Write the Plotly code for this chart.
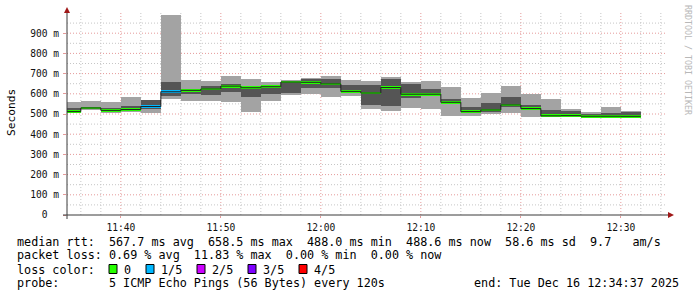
import plotly.graph_objects as go
import pandas as pd

# ---------------- data ----------------
DAY = "2025-12-16 "
bar_start = ["11:34", "11:36", "11:38", "11:40", "11:42", "11:44", "11:46", "11:48",
             "11:50", "11:52", "11:54", "11:56", "11:58", "12:00", "12:02", "12:04",
             "12:06", "12:08", "12:10", "12:12", "12:14", "12:16", "12:18", "12:20",
             "12:22", "12:24", "12:26", "12:28", "12:30"]
smoke_max = [561, 565, 560, 585, 570, 991, 669, 664, 689, 674, 659, 669, 679, 689, 669, 664,
             684, 658, 664, 635, 580, 605, 640, 600, 575, 525, 511, 535, 516]
smoke_p4 = [530, 532, 531, 541, 570, 658, 625, 641, 648, 640, 640, 664, 674, 674, 644, 644,
            674, 649, 625, 575, 535, 555, 585, 545, 520, 516, 501, 506, 511]
median = [512, 530, 518, 522, 537, 610, 617, 624, 638, 630, 635, 658, 657, 649, 612, 604,
          631, 598, 598, 558, 512, 520, 545, 527, 491, 492, 489, 489, 488.6]
smoke_p2 = [508, 525, 508, 515, 527, 591, 598, 592, 608, 584, 600, 602, 631, 628, 603, 545,
            541, 578, 588, 550, 507, 512, 537, 520, 489, 490, 488, 488, 488]
smoke_min = [506, 522, 505, 512, 506, 575, 562, 562, 557, 512, 566, 596, 597, 584, 587, 525,
             513, 529, 527, 492, 492, 501, 506, 487, 488, 489, 488, 488, 488]
loss_fifths = [0, 0, 0, 0, 1, 1, 0, 0, 0, 0, 0, 0, 0, 0, 0, 0,
               0, 0, 0, 0, 0, 0, 0, 0, 0, 0, 0, 0, 0]

loss_labels = ["0", "1/5", "2/5", "3/5", "4/5"]
loss_colors = ["#26ff00", "#00b8ff", "#cc00ff", "#7e00ff", "#ff0000"]

y_tick_vals = [0, 100, 200, 300, 400, 500, 600, 700, 800, 900]
y_tick_text = ["0\u00a0\u00a0", "100 m", "200 m", "300 m", "400 m", "500 m",
               "600 m", "700 m", "800 m", "900 m"]
x_tick_vals = ["11:40", "11:50", "12:00", "12:10", "12:20", "12:30"]
x_tick_text = ["11:40", "11:50", "12:00", "12:10", "12:20", "12:30"]

view_start = DAY + "11:34:37"
view_end = DAY + "12:34:37"
step_ms = 120000

legend_rows = [
    "median rtt:  567.7 ms avg  658.5 ms max  488.0 ms min  488.6 ms now  58.6 ms sd  9.7   am/s",
    "packet loss: 0.69 % avg  11.83 % max  0.00 % min  0.00 % now",
    "loss color:",
    "probe:       5 ICMP Echo Pings (56 Bytes) every 120s",
]
end_text = "end: Tue Dec 16 12:34:37 2025"
watermark = "RRDTOOL / TOBI OETIKER"
y_title = "Seconds"

# ---------------- layout geometry ----------------
W, H = 697, 297
ML, MR, MT, MB = 67, 30, 13, 82
PW, PH = W - ML - MR, H - MT - MB
Y_MAX = 1000
FONT = "DejaVu Sans Mono"

def px(x):
    return (x - ML) / PW

def py(y):
    return (MT + PH - y) / PH

light = "#a3a3a3"
dark = "#555555"
grid_minor = "#c6c6c6"
grid_major = "#e59a9a"

starts = [pd.Timestamp(DAY + s) for s in bar_start]
centers = [t + pd.Timedelta(milliseconds=step_ms / 2) for t in starts]

fig = go.Figure()

# outer smoke (min..max)
fig.add_trace(go.Bar(x=centers, base=smoke_min,
                     y=[a - b for a, b in zip(smoke_max, smoke_min)],
                     width=step_ms, marker=dict(color=light, line=dict(width=0)),
                     hoverinfo="skip", showlegend=False))
# inner smoke (p2..p4)
fig.add_trace(go.Bar(x=centers, base=smoke_p2,
                     y=[a - b for a, b in zip(smoke_p4, smoke_p2)],
                     width=step_ms, marker=dict(color=dark, line=dict(width=0)),
                     hoverinfo="skip", showlegend=False))
# thin dark step line through medians
fig.add_trace(go.Scatter(x=starts + [starts[-1] + pd.Timedelta(milliseconds=step_ms)],
                         y=median + [median[-1]], mode="lines",
                         line=dict(color="#202020", width=1, shape="hv"),
                         hoverinfo="skip", showlegend=False))
# coloured median band
band = 2.8 * Y_MAX / PH
fig.add_trace(go.Bar(x=centers, base=[m - band / 2 for m in median],
                     y=[band] * len(median), width=step_ms,
                     marker=dict(color=[loss_colors[l] for l in loss_fifths], line=dict(width=0)),
                     hoverinfo="skip", showlegend=False))

shapes = []
dash = "1px,2px"
# vertical grid
for t in pd.date_range(DAY + "11:36", DAY + "12:34", freq="2min"):
    major = t.minute % 10 == 0
    shapes.append(dict(type="line", xref="x", yref="paper", x0=t, x1=t, y0=0, y1=1,
                       line=dict(color=grid_major if major else grid_minor, width=1, dash=dash),
                       layer="below"))
# horizontal grid
for v in range(50, 1000, 50):
    major = v % 100 == 0
    shapes.append(dict(type="line", xref="paper", yref="y", x0=0, x1=1, y0=v, y1=v,
                       line=dict(color=grid_major if major else grid_minor, width=1, dash=dash),
                       layer="below"))
# axis lines
axis_col = "#3a3a3a"
shapes.append(dict(type="line", xref="paper", yref="paper", x0=px(63), x1=px(670),
                   y0=0, y1=0, line=dict(color=axis_col, width=1), layer="above"))
shapes.append(dict(type="line", xref="paper", yref="paper", x0=0, x1=0,
                   y0=py(219), y1=py(10), line=dict(color=axis_col, width=1), layer="above"))
# arrows
arrow_col = "#a01818"
shapes.append(dict(type="path", xref="paper", yref="paper",
                   path=f"M {px(64)},{py(13)} L {px(67)},{py(7)} L {px(70)},{py(13)} Z",
                   fillcolor=arrow_col, line=dict(width=0), layer="above"))
shapes.append(dict(type="path", xref="paper", yref="paper",
                   path=f"M {px(668)},{py(212)} L {px(674)},{py(215)} L {px(668)},{py(218)} Z",
                   fillcolor=arrow_col, line=dict(width=0), layer="above"))

annotations = []
leg_font = dict(family=FONT, size=11.76, color="#000000")
row_y = [241.7, 255.3, 269.5, 282.9]
for txt, yy in zip(legend_rows, row_y):
    annotations.append(dict(text=txt.replace(" ", "\u00a0"), xref="paper", yref="paper",
                            x=px(15), y=py(yy), xanchor="left", yanchor="middle",
                            showarrow=False, font=leg_font))
annotations.append(dict(text=end_text.replace(" ", "\u00a0"), xref="paper", yref="paper",
                        x=px(681), y=py(row_y[3]), xanchor="right", yanchor="middle",
                        showarrow=False, font=leg_font))
# loss colour legend
sq_x = [109, 146, 197, 248, 299]
for lab, col, x0 in zip(loss_labels, loss_colors, sq_x):
    shapes.append(dict(type="rect", xref="paper", yref="paper",
                       x0=px(x0), x1=px(x0 + 8), y0=py(273.5), y1=py(264.5),
                       fillcolor=col, line=dict(color="#000000", width=1)))
    annotations.append(dict(text=lab, xref="paper", yref="paper", x=px(x0 + 13),
                            y=py(row_y[2]), xanchor="left", yanchor="middle",
                            showarrow=False, font=leg_font))
# y title
annotations.append(dict(text=y_title, xref="paper", yref="paper", x=px(11), y=py(113),
                        xanchor="center", yanchor="middle", textangle=-90, showarrow=False,
                        font=dict(family=FONT, size=11.2, color="#000000")))
# watermark
annotations.append(dict(text=watermark, xref="paper", yref="paper", x=px(688), y=py(60),
                        xanchor="center", yanchor="middle", textangle=90, showarrow=False,
                        font=dict(family=FONT, size=8.3, color="#b8b8b8")))

fig.update_layout(
    width=W, height=H, margin=dict(l=ML, r=MR, t=MT, b=MB, pad=0),
    paper_bgcolor="#ffffff", plot_bgcolor="#ffffff",
    barmode="overlay", bargap=0, showlegend=False,
    shapes=shapes, annotations=annotations,
    xaxis=dict(type="date", range=[view_start, view_end], showgrid=False, zeroline=False,
               showline=False, tickmode="array",
               tickvals=[DAY + t for t in x_tick_vals], ticktext=x_tick_text,
               ticks="outside", ticklen=2, tickcolor=grid_major, tickwidth=1,
               ticklabelstandoff=1,
               tickfont=dict(family=FONT, size=9.6, color="#111111")),
    yaxis=dict(range=[0, Y_MAX], showgrid=False, zeroline=False, showline=False,
               tickmode="array", tickvals=y_tick_vals, ticktext=y_tick_text,
               ticks="outside", ticklen=3, tickcolor=grid_major, tickwidth=1,
               ticklabelstandoff=2,
               tickfont=dict(family=FONT, size=9.6, color="#111111")),
)

fig.write_html("out.html")
